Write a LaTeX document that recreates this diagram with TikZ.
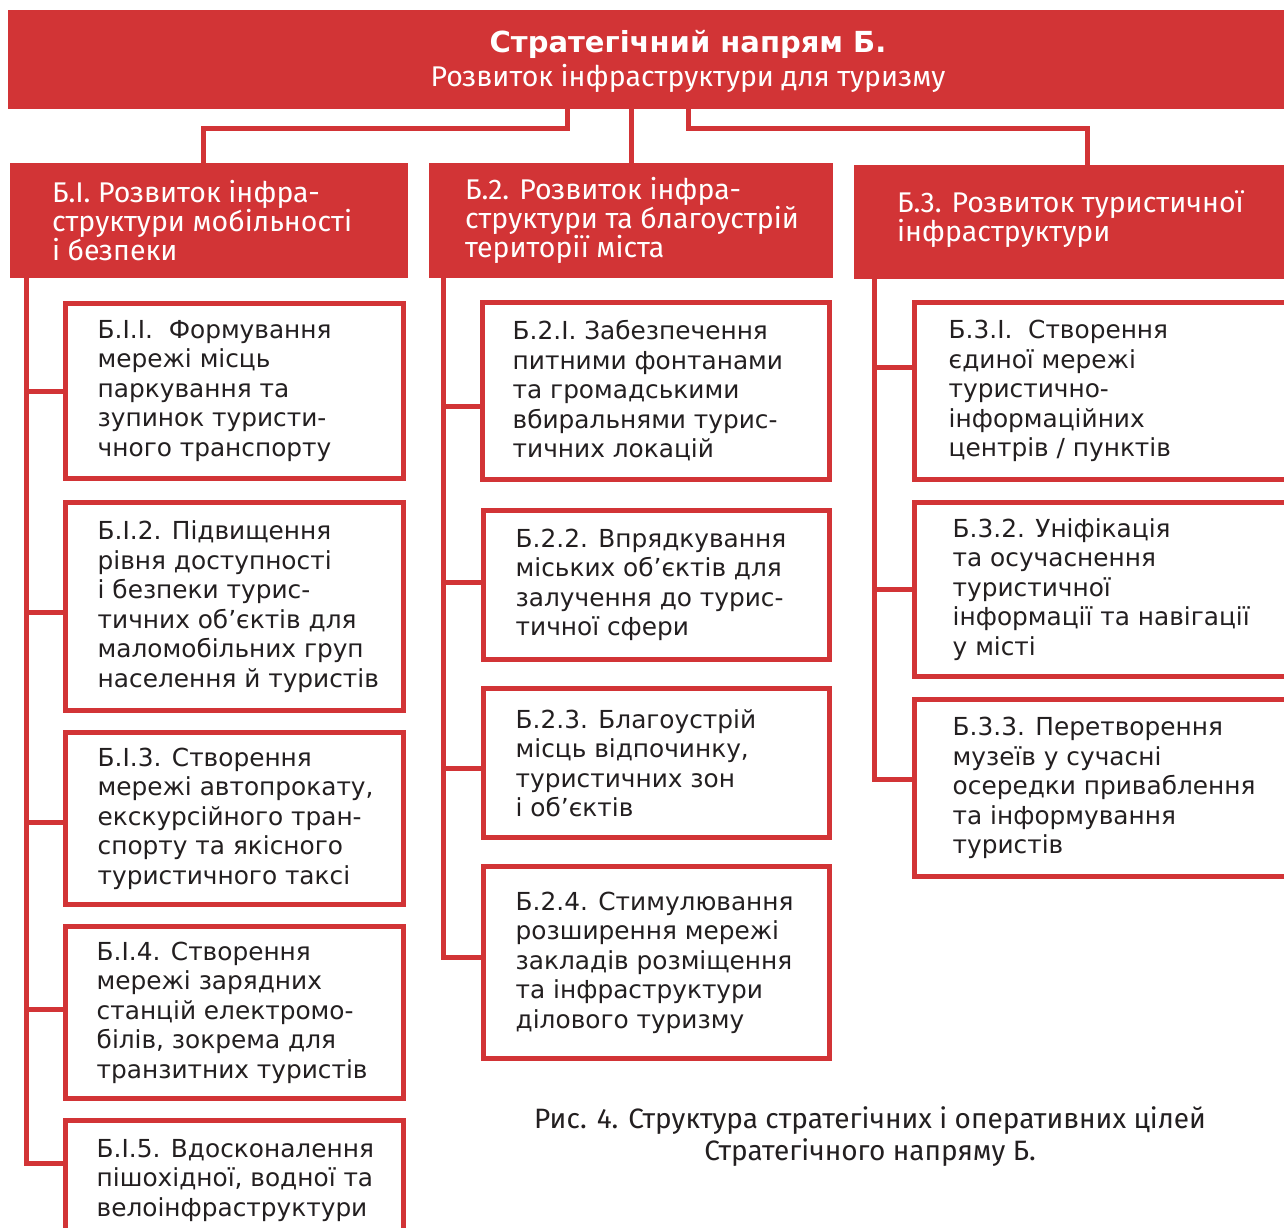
\documentclass[tikz,border=0pt]{standalone}
\usepackage{fontspec}
\setmainfont{DejaVu Sans}
\newfontfamily\hdfont{Fira Sans}
\definecolor{brand}{RGB}{210,52,54}
\definecolor{ink}{RGB}{35,31,32}
\tikzset{
  hdrbox/.style={fill=brand, draw=none, inner sep=0pt},
  hdrtxt/.style={anchor=west, align=left, inner sep=0pt, text=white,
    font=\hdfont\fontsize{28.5}{29}\selectfont},
  subbox/.style={draw=brand, line width=5pt, fill=white, inner sep=0pt},
  subtxt/.style={anchor=west, align=left, inner sep=0pt, text=ink,
    font=\fontsize{24.8}{29.5}\selectfont},
  conn/.style={draw=brand, line width=5pt},
}
\begin{document}
\begin{tikzpicture}[x=1pt,y=-1pt]
\useasboundingbox (0,0) rectangle (1284,1227);
\fill[white] (0,0) rectangle (1284,1227);

% top banner
\node[hdrbox, minimum width=1360, minimum height=99] (top) at (688,59.5) {};
\node[anchor=center, align=center, inner sep=0pt, text=white,
      font=\fontsize{29}{34}\selectfont] (toptxt) at (688,61)
  {{\bfseries Стратегічний напрям Б.}\\
   {\hdfont\fontsize{28.5}{34}\selectfont Розвиток інфраструктури для туризму}};

% level-1 headers
\node[hdrbox, minimum width=398, minimum height=115] (b1) at (209,220.5) {};
\node[hdrbox, minimum width=404, minimum height=115] (b2) at (631,220.5) {};
\node[hdrbox, minimum width=466, minimum height=114] (b3) at (1087,222) {};
\node[hdrtxt] (t1) at ([xshift=42]b1.west) {Б.І. Розвиток інфра-\\структури мобільності\\і безпеки};
\node[hdrtxt] (t2) at ([xshift=36]b2.west) {Б.2. Розвиток інфра-\\структури та благоустрій\\території міста};
\node[hdrtxt] (t3) at ([xshift=43,yshift=3]b3.west) {Б.3. Розвиток туристичної\\інфраструктури};

% connectors from top
\draw[conn] ([xshift=-121]top.south) -- ++(0,19) -| ([xshift=-6]b1.north);
\draw[conn] (b2.north |- top.south) -- (b2.north);
\draw[conn] (top.south) -- ++(0,19) -| (b3.north);

% column 1
\node[subbox, minimum width=338, minimum height=175] (b11) at (234.5,391) {};
\node[subbox, minimum width=338, minimum height=208] (b12) at (234.5,606.5) {};
\node[subbox, minimum width=338, minimum height=172] (b13) at (234.5,818.5) {};
\node[subbox, minimum width=338, minimum height=172] (b14) at (234.5,1012.5) {};
\node[subbox, minimum width=338, minimum height=120] (b15) at (234.5,1180.5) {};
\node[subtxt] (t11) at ([xshift=34.5]b11.west) {Б.І.І.\ \ Формування\\мережі місць\\паркування та\\зупинок туристи-\\чного транспорту};
\node[subtxt] (t12) at ([xshift=34.5]b12.west) {Б.І.2. Підвищення\\рівня доступності\\і безпеки турис-\\тичних об’єктів для\\маломобільних груп\\населення й туристів};
\node[subtxt] (t13) at ([xshift=34.5]b13.west) {Б.І.3. Створення\\мережі автопрокату,\\екскурсійного тран-\\спорту та якісного\\туристичного таксі};
\node[subtxt] (t14) at ([xshift=33.5]b14.west) {Б.І.4. Створення\\мережі зарядних\\станцій електромо-\\білів, зокрема для\\транзитних туристів};
\node[subtxt] (t15) at ([xshift=33.5]b15.west) {Б.І.5. Вдосконалення\\пішохідної, водної та\\велоінфраструктури};
\draw[conn] ([xshift=17]b1.south west) |- (b11.west);
\draw[conn] ([xshift=17]b1.south west) |- ([yshift=-6]b12.west);
\draw[conn] ([xshift=17]b1.south west) |- ([yshift=-4]b13.west);
\draw[conn] ([xshift=17]b1.south west) |- ([yshift=3]b14.west);
\draw[conn] ([xshift=17]b1.south west) |- ([yshift=17]b15.west);

% column 2
\node[subbox, minimum width=347, minimum height=177] (b21) at (656,391) {};
\node[subbox, minimum width=346, minimum height=149] (b22) at (656.5,585) {};
\node[subbox, minimum width=346, minimum height=149] (b23) at (656.5,763) {};
\node[subbox, minimum width=346, minimum height=192] (b24) at (656.5,962.5) {};
\node[subtxt] (t21) at ([xshift=32.5]b21.west) {Б.2.І. Забезпечення\\питними фонтанами\\та громадськими\\вбиральнями турис-\\тичних локацій};
\node[subtxt] (t22) at ([xshift=34.5]b22.west) {Б.2.2. Впрядкування\\міських об’єктів для\\залучення до турис-\\тичної сфери};
\node[subtxt] (t23) at ([xshift=34.5]b23.west) {Б.2.3. Благоустрій\\місць відпочинку,\\туристичних зон\\і об’єктів};
\node[subtxt] (t24) at ([xshift=34.5]b24.west) {Б.2.4. Стимулювання\\розширення мережі\\закладів розміщення\\та інфраструктури\\ділового туризму};
\draw[conn] ([xshift=15]b2.south west) |- ([yshift=-15]b21.west);
\draw[conn] ([xshift=15]b2.south west) |- ([yshift=3]b22.west);
\draw[conn] ([xshift=15]b2.south west) |- ([yshift=-5]b23.west);
\draw[conn] ([xshift=15]b2.south west) |- ([yshift=5]b24.west);

% column 3
\node[subbox, minimum width=403, minimum height=177] (b31) at (1116,391) {};
\node[subbox, minimum width=403, minimum height=174] (b32) at (1116,589.5) {};
\node[subbox, minimum width=403, minimum height=177] (b33) at (1116,788) {};
\node[subtxt] (t31) at ([xshift=36.5]b31.west) {Б.3.І.\ \ Створення\\єдиної мережі\\туристично-\\інформаційних\\центрів / пунктів};
\node[subtxt] (t32) at ([xshift=40.5]b32.west) {Б.3.2. Уніфікація\\та осучаснення\\туристичної\\інформації та навігації\\у місті};
\node[subtxt] (t33) at ([xshift=40.5]b33.west) {Б.3.3. Перетворення\\музеїв у сучасні\\осередки приваблення\\та інформування\\туристів};
\draw[conn] ([xshift=21]b3.south west) |- ([yshift=24]b31.west);
\draw[conn] ([xshift=21]b3.south west) |- (b32.west);
\draw[conn] ([xshift=21]b3.south west) |- ([yshift=9]b33.west);

% caption
\node[align=center, inner sep=0pt, text=ink, font=\hdfont\fontsize{28}{32}\selectfont] (cap) at (870,1137)
  {Рис. 4. Структура стратегічних і оперативних цілей\\Стратегічного напряму Б.};
\end{tikzpicture}
\end{document}
